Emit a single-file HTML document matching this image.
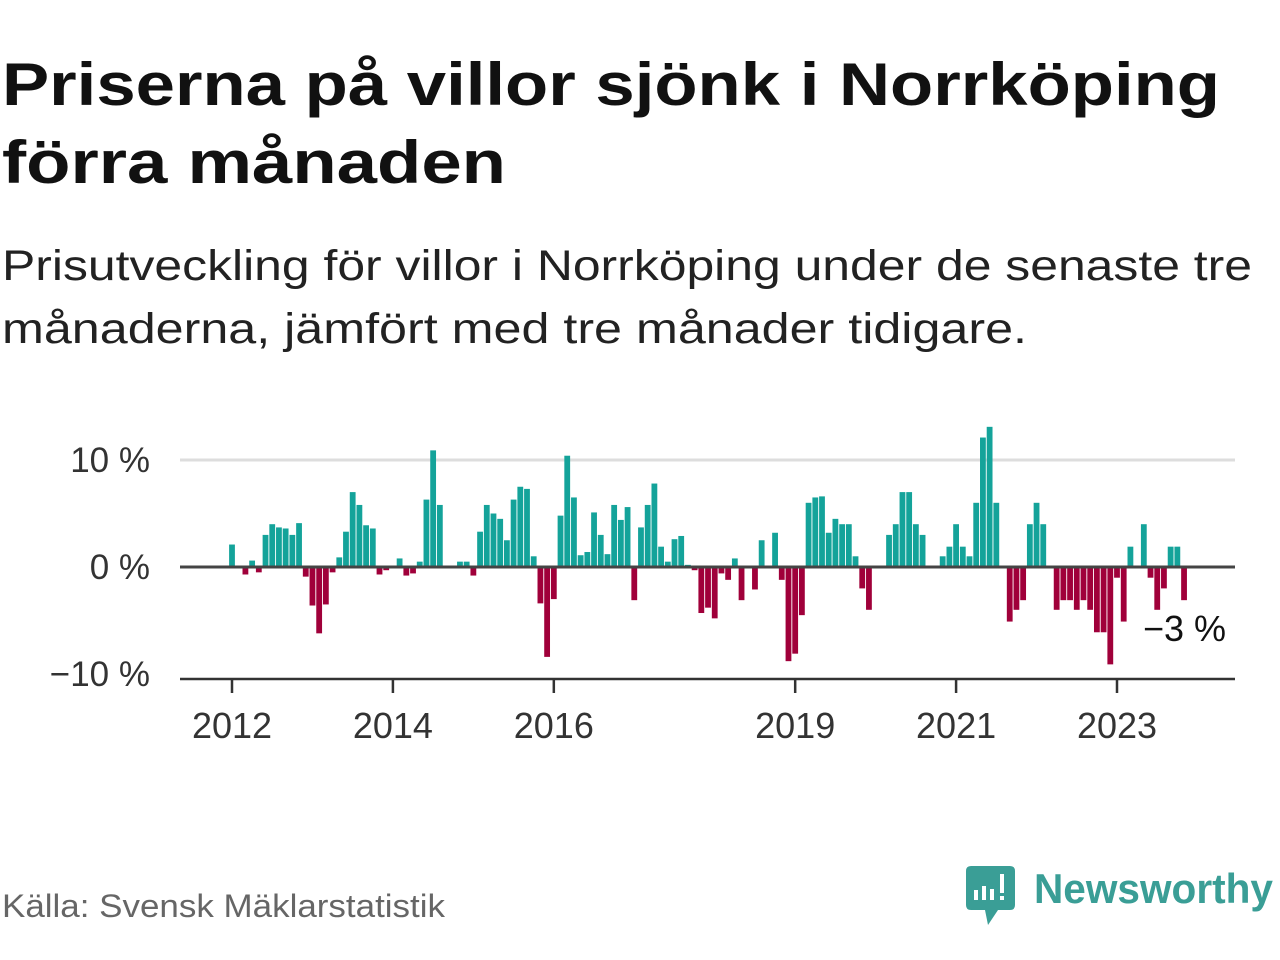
<!DOCTYPE html>
<html><head><meta charset="utf-8"><style>
html,body{margin:0;padding:0;background:#fff;}
svg{display:block;font-family:"Liberation Sans",sans-serif;}
</style></head><body>
<svg id="chart" width="1280" height="960" viewBox="0 0 1280 960">
<text x="2" y="105" font-size="60" font-weight="bold" fill="#111" textLength="1218" lengthAdjust="spacingAndGlyphs">Priserna på villor sjönk i Norrköping</text>
<text x="2" y="183" font-size="60" font-weight="bold" fill="#111" textLength="504" lengthAdjust="spacingAndGlyphs">förra månaden</text>
<text x="2" y="280" font-size="43" fill="#222" textLength="1250" lengthAdjust="spacingAndGlyphs">Prisutveckling för villor i Norrköping under de senaste tre</text>
<text x="2" y="343" font-size="43" fill="#222" textLength="1025" lengthAdjust="spacingAndGlyphs">månaderna, jämfört med tre månader tidigare.</text>
<g id="plot"></g>
<text x="2" y="917" font-size="32" fill="#666" textLength="443" lengthAdjust="spacingAndGlyphs">Källa: Svensk Mäklarstatistik</text>
<g>
<path d="M971 866 H1010 Q1015 866 1015 871 V905 Q1015 910 1010 910 H998 L988 925 L985 910 H971 Q966 910 966 905 V871 Q966 866 971 866 Z" fill="#3a9e96"/>
<rect x="974" y="890" width="4" height="10" fill="#fff"/>
<rect x="982" y="886" width="4" height="14" fill="#fff"/>
<rect x="990" y="889" width="4" height="11" fill="#fff"/>
<rect x="1000" y="874" width="4" height="19" fill="#fff"/>
<rect x="1000" y="896" width="4" height="4" fill="#fff"/>
<text x="1034" y="903" font-size="42" font-weight="bold" fill="#3a9e96" textLength="239" lengthAdjust="spacingAndGlyphs">Newsworthy</text>
</g>
</svg>
<script>
const values = [2.1,0,-0.7,0.6,-0.5,3.0,4.0,3.7,3.6,3.0,4.1,-0.9,-3.6,-6.2,-3.5,-0.5,0.9,3.3,7.0,5.8,3.9,3.6,-0.7,-0.3,0,0.8,-0.8,-0.6,0.5,6.3,10.9,5.8,0,0,0.5,0.5,-0.8,3.3,5.8,5.0,4.5,2.5,6.3,7.5,7.3,1.0,-3.4,-8.4,-3.0,4.8,10.4,6.5,1.1,1.4,5.1,3.0,1.2,5.8,4.4,5.6,-3.1,3.7,5.8,7.8,1.9,0.5,2.6,2.9,0.2,-0.3,-4.3,-3.8,-4.8,-0.6,-1.2,0.8,-3.1,0,-2.1,2.5,0,3.2,-1.2,-8.8,-8.1,-4.5,6.0,6.5,6.6,3.2,4.5,4.0,4.0,1.0,-2.0,-4.0,0,0,3.0,4.0,7.0,7.0,4.0,3.0,0,0,1.0,1.9,4.0,1.9,1.0,6.0,12.1,13.1,6.0,0,-5.1,-4.0,-3.1,4.0,6.0,4.0,0,-4.0,-3.1,-3.1,-4.0,-3.1,-4.0,-6.1,-6.1,-9.1,-1.0,-5.1,1.9,0,4.0,-1.0,-4.0,-2.0,1.9,1.9,-3.1];
const startYear = 2012;
const yearTicks = [2012,2014,2016,2019,2021,2023];
const yTicks = [10,0,-10];
const yTickLabels = ["10 %","0 %","\u221210 %"];
const lastLabel = "\u22123 %";

const NS="http://www.w3.org/2000/svg";
const g=document.getElementById('plot');
const X0=180,X1=1235;
function xMonth(i){return 232+i*(885/132);}
function xYear(y){return 232+(y-2012)*(885/11);}
function yVal(v){return 567-v*10.7;}
function mk(tag,attrs){const e=document.createElementNS(NS,tag);for(const k in attrs)e.setAttribute(k,attrs[k]);g.appendChild(e);return e;}

yTicks.forEach((t,i)=>{
  if(t===10){
    const gl=mk('line',{x1:X0,x2:X1,y1:yVal(t),y2:yVal(t),stroke:'#ddd','stroke-width':3});
    
    
  }
  const tx=mk('text',{x:150,y:yVal(t)+12,'font-size':35,fill:'#333','text-anchor':'end'});
  tx.textContent=yTickLabels[i];
  
  
});

const bw=5.8;
values.forEach((v,i)=>{
  if(v===0)return;
  const cx=xMonth(i);
  const y=Math.min(yVal(v),yVal(0)), h=Math.abs(yVal(v)-yVal(0));
  const r=mk('rect',{x:cx-bw/2,y:y,width:bw,height:h,fill:v>0?'#14a39a':'#a0003a'});
  
  
});

const zl=mk('line',{x1:X0,x2:X1,y1:yVal(0),y2:yVal(0),stroke:'#444','stroke-width':3});



const ax=mk('line',{x1:X0,x2:X1,y1:679,y2:679,stroke:'#333','stroke-width':2.5});



yearTicks.forEach(yr=>{
  const x=xYear(yr);
  const tk=mk('line',{x1:x,x2:x,y1:679,y2:693,stroke:'#333','stroke-width':2.5});
  
  
  const tx=mk('text',{x:x,y:738,'font-size':36,fill:'#333','text-anchor':'middle'});
  tx.textContent=String(yr);
  
  
});

const li=values.length-1;
const lab=mk('text',{x:xMonth(li)+42,y:yVal(values[li])+41,'font-size':36,fill:'#111','text-anchor':'end'});
lab.textContent=lastLabel;


</script>
</body></html>
